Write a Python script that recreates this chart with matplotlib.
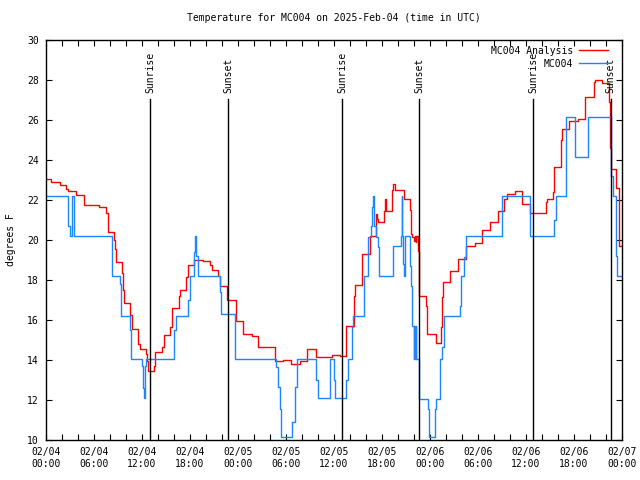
import numpy as np
import pandas as pd
import matplotlib
matplotlib.use("Agg")
import matplotlib.pyplot as plt
import matplotlib.dates as mdates

plt.rcParams['font.family'] = ['DejaVu Sans Mono']
plt.rcParams['font.size'] = 7

START = pd.Timestamp("2025-02-04 00:00")

# hours since 02/04 00:00 UTC, temperature (F)
red_hours = [0.0, 0.67, 1.71, 2.54, 2.71, 3.71, 4.75, 6.63, 7.46, 7.71, 7.8, 8.46, 8.63, 8.8,
             9.46, 9.6, 9.71, 10.54, 10.71, 11.54, 11.71, 12.46, 12.63, 12.79, 13.46, 13.67,
             14.46, 14.71, 15.46, 15.75, 16.58, 16.79, 17.54, 17.71, 18.46, 19.6, 20.46, 20.71,
             21.5, 21.71, 22.63, 23.71, 24.62, 25.75, 26.5, 28.58, 29.62, 30.67, 31.7, 32.62,
             33.7, 35.75, 36.7, 37.54, 38.46, 38.58, 39.5, 40.54, 41.2, 41.35, 41.5, 42.2, 42.4,
             42.5, 43.25, 43.4, 43.6, 44.7, 45.5, 45.6, 45.8, 46.0, 46.1, 46.2, 46.3, 46.5, 46.6,
             47.54, 47.6, 48.7, 49.4, 49.5, 49.6, 50.5, 51.5, 52.5, 53.6, 54.5, 55.5, 56.5,
             57.25, 57.6, 58.6, 59.5, 60.46, 62.46, 62.6, 63.4, 63.5, 64.4, 64.55, 65.4, 66.5,
             67.4, 68.46, 68.6, 69.54, 70.4, 70.5, 70.6, 71.3, 71.65, 72.0]
red_vals = [23.05, 22.92, 22.77, 22.55, 22.47, 22.27, 21.77, 21.63, 21.33, 20.75, 20.42, 20.02,
            19.53, 18.92, 18.35, 17.5, 16.85, 16.25, 15.55, 14.8, 14.55, 14.3, 13.93, 13.47,
            13.72, 14.38, 14.63, 15.25, 15.63, 16.6, 17.2, 17.52, 18.13, 18.75, 19.0, 18.93,
            18.77, 18.52, 18.2, 17.68, 17.0, 15.97, 15.28, 15.2, 14.67, 13.97, 14.0, 13.8, 13.93,
            14.53, 14.17, 14.23, 14.2, 15.68, 17.22, 17.75, 19.3, 20.22, 21.3, 21.05, 20.88,
            21.47, 22.05, 21.47, 22.5, 22.8, 22.5, 22.05, 21.5, 20.3, 20.13, 19.97, 20.22, 19.9,
            20.22, 19.47, 17.22, 16.72, 15.3, 14.84, 15.63, 17.13, 17.92, 18.43, 19.05, 19.72,
            19.85, 20.5, 20.88, 21.45, 22.05, 22.3, 22.43, 21.8, 21.35, 21.9, 22.05, 22.4, 23.63,
            25.0, 25.55, 25.97, 26.05, 27.17, 27.9, 28.0, 27.83, 26.9, 24.6, 23.55, 22.6, 19.7,
            19.7]

blue_hours = [0.0, 2.8, 2.95, 3.2, 3.55, 8.2, 8.3, 9.2, 9.38, 10.46, 10.63, 12.0, 12.1, 12.25,
              12.35, 12.5, 16.0, 16.25, 17.7, 18.04, 18.54, 18.6, 18.75, 19.0, 21.7, 21.9, 23.6,
              28.7, 29.0, 29.2, 29.4, 30.75, 31.1, 31.4, 33.8, 34.0, 35.55, 36.0, 36.1, 37.55,
              37.75, 38.2, 38.4, 39.7, 40.25, 40.67, 40.75, 40.88, 41.0, 41.2, 41.5, 41.63, 43.4,
              44.35, 44.45, 44.55, 44.65, 44.75, 44.9, 45.5, 45.65, 45.8, 45.95, 46.0, 46.1,
              46.2, 46.3, 46.65, 47.75, 47.9, 48.6, 48.8, 49.2, 49.45, 49.7, 51.7, 51.85, 52.2,
              52.5, 57.05, 60.45, 60.5, 63.55, 63.7, 64.95, 65.05, 66.15, 67.75, 70.67, 70.9,
              71.2, 71.4, 72.0]
blue_vals = [22.22, 20.7, 20.22, 22.22, 20.22, 19.6, 18.22, 17.8, 16.22, 15.5, 14.05, 13.7,
             12.6, 12.1, 13.7, 14.05, 15.5, 16.22, 17.0, 18.22, 19.4, 20.22, 19.2, 18.22, 17.4,
             16.3, 14.05, 13.63, 12.63, 11.55, 10.13, 10.88, 12.63, 14.05, 13.0, 12.08, 14.05,
             13.0, 12.08, 13.0, 14.05, 15.63, 16.22, 18.22, 20.17, 20.72, 21.63, 22.22, 20.72,
             20.17, 19.63, 18.22, 19.72, 20.22, 22.22, 20.22, 18.8, 18.22, 20.22, 18.72, 17.72,
             15.72, 14.05, 15.72, 14.05, 15.72, 14.05, 12.05, 11.55, 10.13, 11.55, 12.05, 14.05,
             14.64, 16.22, 16.72, 18.22, 19.13, 20.22, 22.22, 21.47, 20.22, 21.0, 22.22, 25.0,
             26.13, 24.17, 26.13, 23.22, 22.22, 19.22, 18.22, 18.22]

sunrise_hours = [13.0, 37.0, 60.9]
sunset_hours = [22.75, 46.63, 70.58]


def to_time(hours):
    return START + pd.to_timedelta(np.asarray(hours), unit="h")


fig = plt.figure(figsize=(6.4, 4.8), dpi=100)
ax = fig.add_axes([46 / 640, 40 / 480, (622 - 46) / 640, 400 / 480])

ax.step(to_time(red_hours), red_vals, where="post", color="#ff0000", lw=1.0,
        label="MC004 Analysis")
ax.step(to_time(blue_hours), blue_vals, where="post", color="#1c86ff", lw=1.0,
        label="MC004")

for name, hrs in (("Sunrise", sunrise_hours), ("Sunset", sunset_hours)):
    for t in to_time(hrs):
        ax.plot([t, t], [10, 27.05], color="black", lw=1.0)
        ax.text(t, 27.35, name, rotation=90, ha="center", va="bottom", fontsize=7)

ax.set_xlim(START, START + pd.Timedelta(hours=72))
ax.set_ylim(10, 30)
ax.set_yticks(np.arange(10, 31, 2))
ax.xaxis.set_major_locator(mdates.HourLocator(byhour=[0, 6, 12, 18]))
ax.xaxis.set_minor_locator(mdates.HourLocator(byhour=range(0, 24, 2)))
ax.xaxis.set_major_formatter(mdates.DateFormatter("%m/%d\n%H:%M"))
ax.tick_params(which="both", direction="in", top=True, right=True, length=4, width=0.8,
               labelsize=7, pad=5)
for s in ax.spines.values():
    s.set_linewidth(1.0)

ax.set_ylabel("degrees F", fontsize=7, labelpad=8)
ax.set_title("Temperature for MC004 on 2025-Feb-04 (time in UTC)", fontsize=7, pad=14)

ax.legend(loc="upper right", markerfirst=False, frameon=False, fontsize=7,
          handlelength=2.9, handletextpad=0.6, borderaxespad=0.2, labelspacing=0.3,
          bbox_to_anchor=(0.985, 1.0))

fig.savefig("out.png", dpi=100)
